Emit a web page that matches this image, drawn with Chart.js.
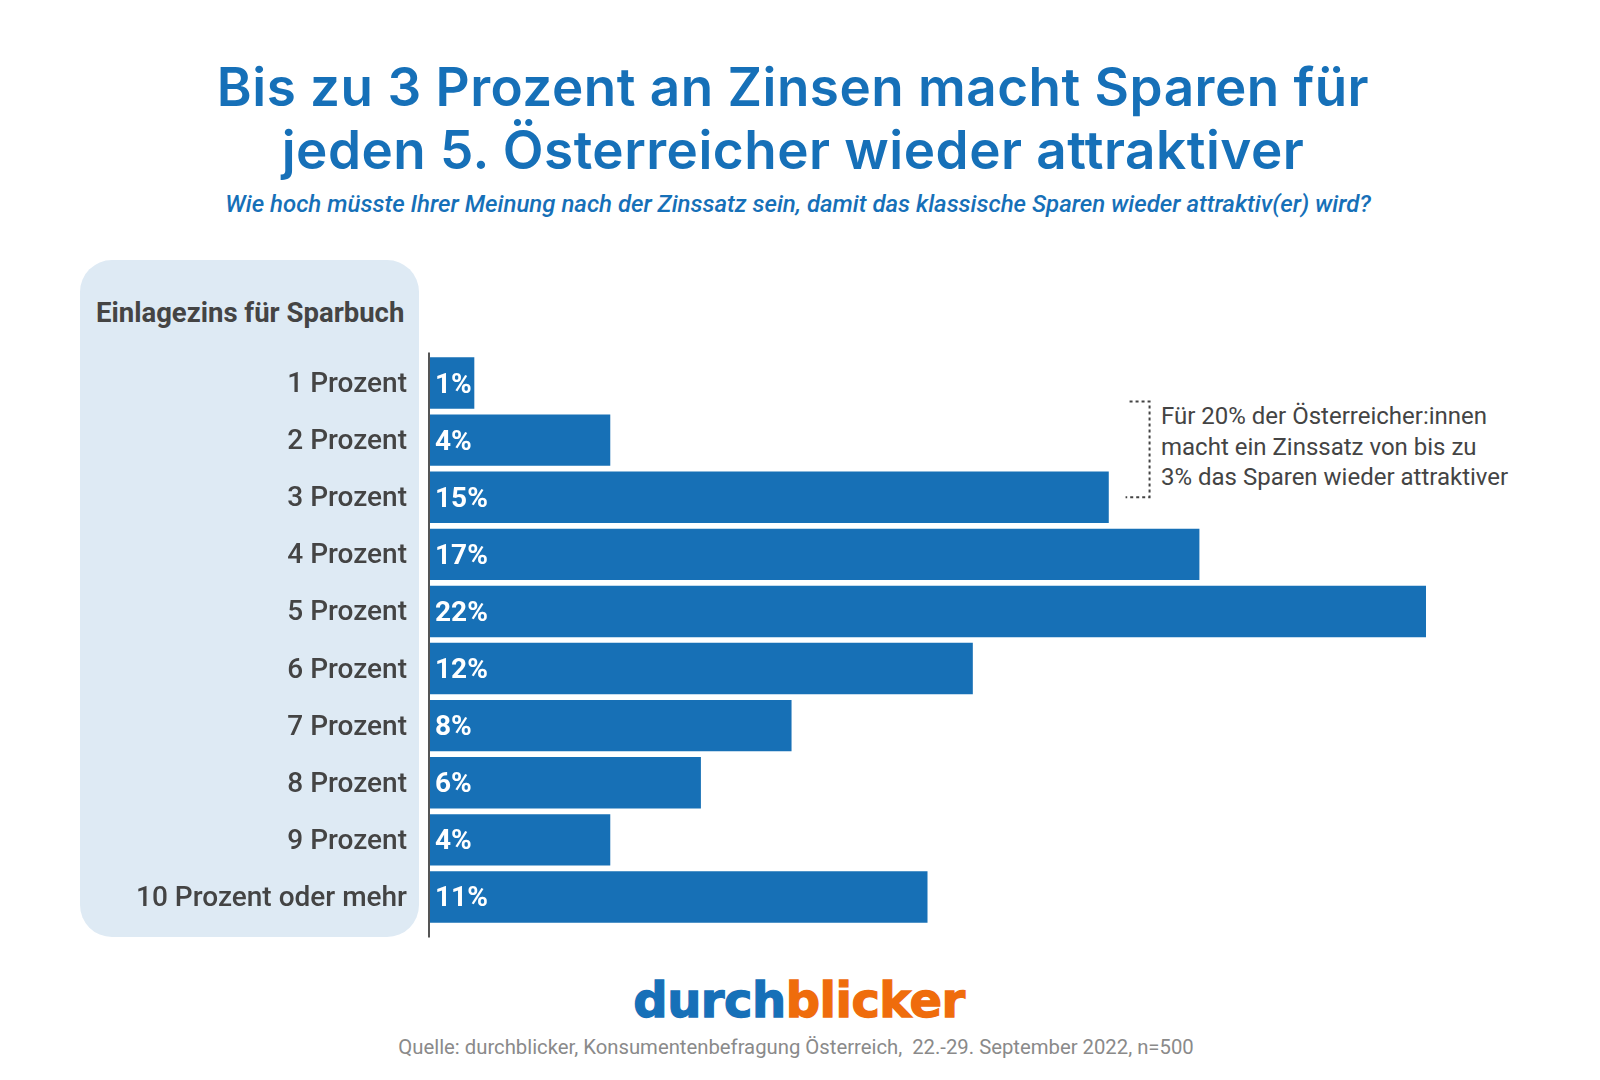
<!DOCTYPE html>
<html lang="de">
<head>
<meta charset="utf-8">
<title>Einlagezins für Sparbuch</title>
<script src="https://cdn.jsdelivr.net/npm/chart.js@4.4.1/dist/chart.umd.min.js"></script>
<style>
  html, body { margin: 0; padding: 0; background: #fff; }
  #page { position: relative; width: 1600px; height: 1080px; overflow: hidden; font-family: Roboto, "Noto Sans", sans-serif; }
  .abs { position: absolute; white-space: nowrap; }
  #panel { left: 80px; top: 260px; width: 339px; height: 677px; border-radius: 32px; background: #deeaf4; }
  #title { left: 0; width: 1586px; top: 56px; text-align: center; font-family: Inter, "Open Sans", sans-serif; font-weight: 600; font-size: 53px; line-height: 63px; letter-spacing: 0.5px; color: #1670b8; }
  #subtitle { left: 0; width: 1596px; top: 192px; text-align: center; font-style: italic; font-weight: 500; font-size: 24px; line-height: 24px; color: #1670b8; }
  #header { left: 96px; top: 299px; font-weight: 700; font-size: 27.5px; line-height: 27.5px; color: #444; }
  #note { left: 1161px; top: 401px; font-size: 24px; line-height: 30.5px; color: #444; }
  #logo { left: 0; width: 1598px; top: 974px; text-align: center; font-family: "DejaVu Sans", sans-serif; font-weight: 700; font-size: 48px; line-height: 52px; letter-spacing: -0.5px; }
  #logo .a { color: #1670b8; -webkit-text-stroke: 1.3px #1670b8; }
  #logo .b { color: #ef6c0c; -webkit-text-stroke: 1.3px #ef6c0c; }
  #source { left: 0; width: 1592px; top: 1037px; text-align: center; font-size: 20.3px; line-height: 20px; color: #8a8a8a; }
  #chart { position: absolute; left: 0; top: 0; z-index: 1; }
</style>
</head>
<body>
<div id="page">
  <div id="panel" class="abs"></div>
  <div id="title" class="abs">Bis zu 3 Prozent an Zinsen macht Sparen für<br>jeden 5. Österreicher wieder attraktiver</div>
  <div id="subtitle" class="abs">Wie hoch müsste Ihrer Meinung nach der Zinssatz sein, damit das klassische Sparen wieder attraktiv(er) wird?</div>
  <div id="header" class="abs">Einlagezins für Sparbuch</div>
  <div id="note" class="abs">Für 20% der Österreicher:innen<br>macht ein Zinssatz von bis zu<br>3% das Sparen wieder attraktiver</div>
  <div id="logo" class="abs"><span class="a">durch</span><span class="b">blicker</span></div>
  <div id="source" class="abs">Quelle: durchblicker, Konsumentenbefragung Österreich,&nbsp; 22.-29. September 2022, n=500</div>
  <canvas id="chart" width="1600" height="1080"></canvas>
</div>
<script>
// Kategorien und Werte (Anteil der Befragten in %)
const kategorien = ['1 Prozent', '2 Prozent', '3 Prozent', '4 Prozent', '5 Prozent',
                    '6 Prozent', '7 Prozent', '8 Prozent', '9 Prozent', '10 Prozent oder mehr'];
const anteile = [1, 4, 15, 17, 22, 12, 8, 6, 4, 11];
const xMax = 22;

// Prozentwerte in den Balken
const wertePlugin = {
    id: 'werte',
    afterDatasetsDraw(chart) {
        const ctx = chart.ctx;
        const meta = chart.getDatasetMeta(0);
        ctx.save();
        ctx.fillStyle = '#ffffff';
        ctx.font = '700 28px Roboto';
        ctx.textAlign = 'left';
        ctx.textBaseline = 'middle';
        meta.data.forEach((bar, i) => {
            ctx.fillText(anteile[i] + '%', bar.base + 6, bar.y + 2.5);
        });
        ctx.restore();
    }
};

// Achsenlinie und gestrichelte Klammer
const achsePlugin = {
    id: 'achse',
    afterDraw(chart) {
        const ctx = chart.ctx;
        const area = chart.chartArea;
        const y = chart.scales.y;
        const x = chart.scales.x;
        ctx.save();
        ctx.strokeStyle = '#555555';
        ctx.lineWidth = 2;
        ctx.beginPath();
        ctx.moveTo(area.left, area.top - 2);
        ctx.lineTo(area.left, area.bottom + 12);
        ctx.stroke();

        const top = (y.getPixelForValue(0) + y.getPixelForValue(1)) / 2 - 10;
        const bottom = y.getPixelForValue(2);
        const bx = x.getPixelForValue(15.9);
        ctx.strokeStyle = '#444444';
        ctx.lineWidth = 2;
        ctx.setLineDash([3, 3]);
        ctx.beginPath();
        ctx.moveTo(bx - 20, top);
        ctx.lineTo(bx, top);
        ctx.lineTo(bx, bottom);
        ctx.lineTo(bx - 24, bottom);
        ctx.stroke();
        ctx.restore();
    }
};

const ctx = document.getElementById('chart').getContext('2d');
new Chart(ctx, {
    type: 'bar',
    data: {
        labels: kategorien,
        datasets: [{
            data: anteile,
            backgroundColor: '#1770b6',
            borderWidth: 0,
            barPercentage: 0.9,
            categoryPercentage: 1.0
        }]
    },
    options: {
        indexAxis: 'y',
        responsive: false,
        animation: false,
        layout: {
            padding: { left: 0, top: 354.5, right: 1600 - 1426, bottom: 1080 - 925.5 }
        },
        plugins: {
            legend: { display: false },
            tooltip: { enabled: false }
        },
        scales: {
            x: {
                min: 0,
                max: xMax,
                display: false
            },
            y: {
                grid: { display: false, drawTicks: false },
                border: { display: false },
                ticks: {
                    color: '#444444',
                    padding: 22,
                    labelOffset: 2,
                    font: { family: 'Roboto', size: 28, weight: '500' }
                },
                afterFit(scale) {
                    scale.width = 429;
                }
            }
        }
    },
    plugins: [wertePlugin, achsePlugin]
});
</script>
</body>
</html>
